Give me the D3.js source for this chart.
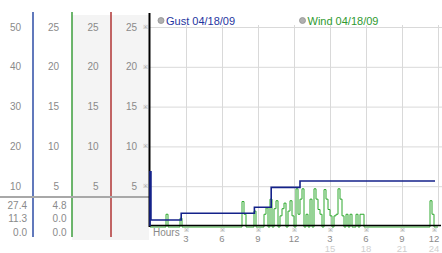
<!DOCTYPE html>
<html>
<head>
<meta charset="utf-8">
<script src="https://cdn.jsdelivr.net/npm/d3@7"></script>
<style>
body { margin: 0; background: #fff; }
svg { display: block; font-family: "Liberation Sans", Arial, sans-serif; }
</style>
</head>
<body>
<svg id="chart" width="442" height="253"></svg>
<script>
// hours on the x axis
var hourTicks = [3, 6, 9, 12, 15, 18, 21, 24];
var hourLabels = ['3', '6', '9', '12', '3', '6', '9', '12'];
var hourLabels24 = ['', '', '', '', '15', '18', '21', '24'];

// left axis columns
var gustTicks = [10, 20, 30, 40, 50];
var windTicks = [5, 10, 15, 20, 25];
var statsGust = ['27.4', '11.3', '0.0'];
var statsWind = ['4.8', '0.0', '0.0'];

// gust steps: [hour, value]
var gustSteps = [[0, 0], [0, 13.6], [0.08, 1.5], [2.6, 3.2], [8.7, 4.7], [10.1, 9.7], [12.5, 11.3], [23.75, 11.3]];

// wind readings, one every 10 minutes (12 per row = 2 hours)
var windValues = [
	0, 0, 0, 0, 0, 0, 0, 0, 1.6, 0, 0, 0,
	0, 0, 0, 1.1, 0, 0, 0, 0, 0, 0, 0, 0,
	0, 0, 0, 0, 0, 0, 0, 0, 0, 0, 0, 0,
	0, 0, 0, 0, 0, 0, 0, 0, 0, 0, 3.2, 1.6,
	0, 0, 0, 0, 2.0, 0, 0, 0, 0, 1.6, 2.4, 0,
	3.5, 0, 2.3, 3.3, 0, 1.4, 2.3, 3.0, 0, 2.0, 3.3, 1.4,
	0, 4.8, 1.6, 3.5, 4.8, 0, 1.6, 0, 3.5, 0, 4.8, 3.5,
	2.2, 1.6, 0, 4.7, 3.5, 2.2, 1.4, 0, 1.4, 1.6, 4.8, 3.5,
	1.4, 0, 1.6, 0, 1.6, 0, 0, 1.6, 0, 1.6, 1.6, 0,
	0, 0, 0, 0, 0, 0, 0, 0, 0, 0, 0, 0,
	0, 0, 0, 0, 0, 0, 0, 0, 0, 0, 0, 0,
	0, 0, 0, 0, 0, 0, 0, 0, 3.3, 1.6, 0, 0
];

var svg = d3.select('#chart');

var x = d3.scaleLinear().domain([0, 24]).range([150, 438]);
var yGust = d3.scaleLinear().domain([0, 50]).range([226, 27]);
var yWind = d3.scaleLinear().domain([0, 25]).range([227, 28]);
var yAxis = d3.scaleLinear().domain([0, 25]).range([226, 27]);

var labelColor = '#8a8a8a';

// left panel backgrounds
svg.append('rect').attr('x', 72).attr('y', 15).attr('width', 77).attr('height', 225).attr('fill', '#f4f4f4');

// column separator lines
var colLines = [{x: 33, c: '#2c4ca6'}, {x: 72, c: '#3c9e3c'}, {x: 111, c: '#b03434'}];
svg.selectAll('line.col')
	.data(colLines)
	.enter()
	.append('line')
	.attr('class', 'col')
	.attr('x1', function(d) { return d.x; })
	.attr('x2', function(d) { return d.x; })
	.attr('y1', 12)
	.attr('y2', 237)
	.attr('stroke', function(d) { return d.c; })
	.attr('stroke-width', 1.5);

svg.append('line')
	.attr('x1', 0).attr('x2', 149).attr('y1', 197).attr('y2', 197)
	.attr('stroke', '#a8a8a8').attr('stroke-width', 2);

// left labels
svg.selectAll('text.g')
	.data(gustTicks)
	.enter()
	.append('text')
	.attr('x', 21)
	.attr('y', function(d) { return yGust(d) + 3.5; })
	.attr('text-anchor', 'end')
	.attr('font-size', 10)
	.attr('fill', labelColor)
	.text(function(d) { return d; });

[59, 98.5, 137].forEach(function(cx) {
	svg.append('g').selectAll('text')
		.data(windTicks)
		.enter()
		.append('text')
		.attr('x', cx)
		.attr('y', function(d) { return yAxis(d) + 3.5; })
		.attr('text-anchor', 'end')
		.attr('font-size', 10)
		.attr('fill', labelColor)
		.text(function(d) { return d; });
});

svg.selectAll('text.brk')
	.data(windTicks)
	.enter()
	.append('text')
	.attr('x', 145)
	.attr('y', function(d) { return yAxis(d) + 2; })
	.attr('text-anchor', 'middle')
	.attr('font-size', 6)
	.attr('fill', '#999')
	.text('\u203B');

var statY = [205, 218.5, 232];
[{x: 27, v: statsGust}, {x: 66.5, v: statsWind}].forEach(function(col) {
	svg.append('g').selectAll('text')
		.data(col.v)
		.enter()
		.append('text')
		.attr('x', col.x)
		.attr('y', function(d, i) { return statY[i] + 3.5; })
		.attr('text-anchor', 'end')
		.attr('font-size', 10)
		.attr('fill', labelColor)
		.text(function(d) { return d; });
});

// grid
svg.selectAll('line.hg')
	.data(gustTicks)
	.enter()
	.append('line')
	.attr('x1', 150).attr('x2', 442)
	.attr('y1', function(d) { return yGust(d) + 0.5; })
	.attr('y2', function(d) { return yGust(d) + 0.5; })
	.attr('stroke', '#d9d9d9');

svg.selectAll('line.vg')
	.data(hourTicks)
	.enter()
	.append('line')
	.attr('x1', function(d) { return Math.round(x(d)) + 0.5; })
	.attr('x2', function(d) { return Math.round(x(d)) + 0.5; })
	.attr('y1', 25).attr('y2', 226)
	.attr('stroke', '#d9d9d9');

// legend
var legend = [{x: 161, label: 'Gust 04/18/09', c: '#1f35a0'}, {x: 302.5, label: 'Wind 04/18/09', c: '#2f9a2f'}];
legend.forEach(function(l) {
	svg.append('circle').attr('cx', l.x).attr('cy', 20.5).attr('r', 3)
		.attr('fill', '#b0b0b0').attr('stroke', '#909090').attr('stroke-width', 0.8);
	svg.append('text').attr('x', l.x + 5).attr('y', 24.5)
		.attr('font-size', 11).attr('fill', l.c).text(l.label);
});

// wind line
var windPoints = windValues.map(function(v, i) { return [i / 6, v]; });
windPoints.push([24, windValues[windValues.length - 1]]);

svg.append('path')
	.datum(windPoints)
	.attr('fill', 'none')
	.attr('stroke', '#2ea82e')
	.attr('stroke-width', 1)
	.attr('d', d3.line()
		.curve(d3.curveStepAfter)
		.x(function(d) { return x(d[0]); })
		.y(function(d) { return yWind(d[1]); }));

// axes
svg.append('line').attr('x1', 149.5).attr('x2', 149.5).attr('y1', 13).attr('y2', 227)
	.attr('stroke', '#000').attr('stroke-width', 2);
svg.append('line').attr('x1', 149).attr('x2', 441).attr('y1', 225.5).attr('y2', 225.5)
	.attr('stroke', '#000').attr('stroke-width', 1.6);

// gust line
svg.append('path')
	.datum(gustSteps)
	.attr('fill', 'none')
	.attr('stroke', '#14228a')
	.attr('stroke-width', 1.6)
	.attr('d', d3.line()
		.curve(d3.curveStepAfter)
		.x(function(d) { return x(d[0]); })
		.y(function(d) { return yGust(d[1]); }));

// x axis labels
svg.append('text').attr('x', 153).attr('y', 236)
	.attr('font-size', 10).attr('fill', labelColor).text('Hours');

svg.selectAll('text.bx')
	.data(hourTicks)
	.enter()
	.append('text')
	.attr('x', function(d) { return Math.min(x(d), 434); })
	.attr('y', 232)
	.attr('text-anchor', 'middle')
	.attr('font-size', 6)
	.attr('fill', '#999')
	.text('\u203B');

svg.selectAll('text.hx')
	.data(hourTicks)
	.enter()
	.append('text')
	.attr('x', function(d) { return Math.min(x(d), 434); })
	.attr('y', 241.5)
	.attr('text-anchor', 'middle')
	.attr('font-size', 9.5)
	.attr('fill', labelColor)
	.text(function(d, i) { return hourLabels[i]; });

svg.selectAll('text.hx24')
	.data(hourTicks)
	.enter()
	.append('text')
	.attr('x', function(d) { return Math.min(x(d), 434); })
	.attr('y', 251.5)
	.attr('text-anchor', 'middle')
	.attr('font-size', 9.5)
	.attr('fill', '#cfcfcf')
	.text(function(d, i) { return hourLabels24[i]; });
</script>
</body>
</html>
